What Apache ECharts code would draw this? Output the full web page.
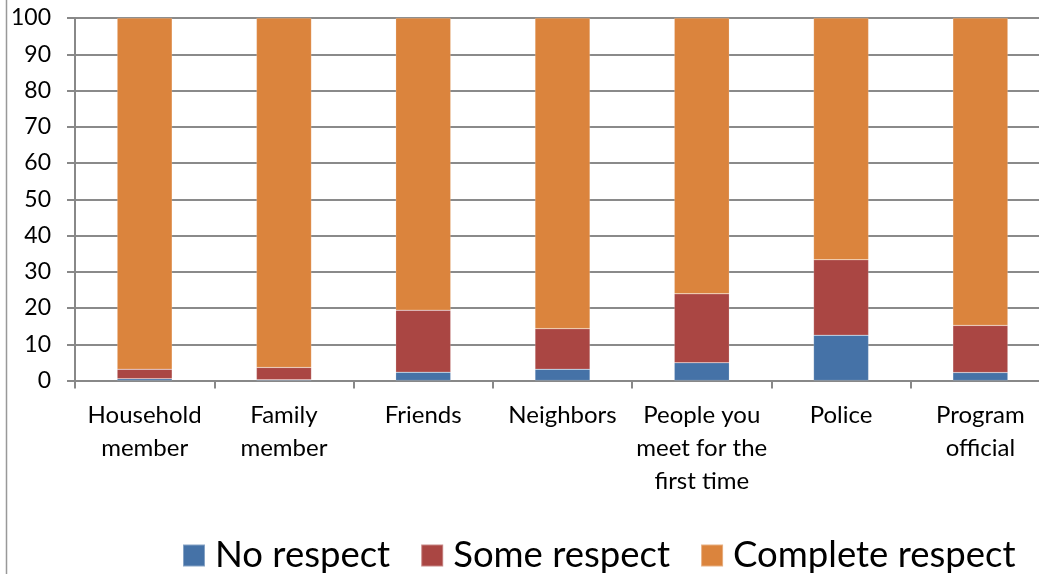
<!DOCTYPE html>
<html>
<head>
<meta charset="utf-8">
<style>
  html, body { margin: 0; padding: 0; background: #fff; overflow: hidden; width: 1039px; height: 574px; }
  /* the plot runs slightly past the right edge of the page, so the canvas is a bit wider */
  #chart { width: 1050px; height: 574px; }
</style>
<script src="https://cdn.jsdelivr.net/npm/echarts@6/dist/echarts.min.js"></script>
</head>
<body>
<div id="chart"></div>
<script>
// Level of respect felt from different groups (%)
const categories = [
  'Household\nmember',
  'Family\nmember',
  'Friends',
  'Neighbors',
  'People you\nmeet for the\nfirst time',
  'Police',
  'Program\nofficial'
];
const noRespect       = [0.5, 0.2, 2.3, 3.1, 4.9, 12.5, 2.2];
const someRespect     = [2.6, 3.4, 17.1, 11.2, 19.0, 20.8, 13.0];
const completeRespect = [96.9, 96.4, 80.6, 85.7, 76.1, 66.7, 84.8];
const yTicks = [0, 10, 20, 30, 40, 50, 60, 70, 80, 90, 100];

const seriesNames = ['No respect', 'Some respect', 'Complete respect'];
const colors = ['#4572A7', '#AA4643', '#DB843D'];
const FONT = 'Lato, "Open Sans", sans-serif';

const chart = echarts.init(document.getElementById('chart'), null, { renderer: 'canvas' });

function barSeries(name, data, color) {
  return {
    name: name,
    type: 'bar',
    stack: 'respect',
    data: data,
    barWidth: 55,
    itemStyle: { color: color, borderColor: 'rgba(255,255,255,0.35)', borderWidth: 0.5 },
    emphasis: { disabled: true }
  };
}

chart.setOption({
  animation: false,
  backgroundColor: '#fff',
  textStyle: { fontFamily: FONT },
  grid: { left: 75, right: 0, top: 18, bottom: 193.5, containLabel: false },
  legend: {
    data: seriesNames,
    left: 177,
    top: 532,
    itemWidth: 22,
    itemHeight: 22,
    itemGap: 30,
    icon: 'rect',
    textStyle: { fontSize: 36.5, color: '#000', fontFamily: FONT, padding: [0, 0, 0, 5] }
  },
  xAxis: {
    type: 'category',
    data: categories,
    axisLine: { lineStyle: { color: '#888', width: 2 } },
    axisTick: { show: true, length: 8, lineStyle: { color: '#888', width: 2 } },
    axisLabel: {
      interval: 0,
      margin: 18,
      fontSize: 24,
      lineHeight: 33,
      color: '#000',
      fontFamily: FONT
    }
  },
  yAxis: {
    type: 'value',
    min: yTicks[0],
    max: yTicks[yTicks.length - 1],
    interval: 10,
    axisLine: { show: true, lineStyle: { color: '#888', width: 2 } },
    axisTick: { show: true, length: 8, lineStyle: { color: '#888', width: 2 } },
    splitLine: { lineStyle: { color: '#8a8a8a', width: 2 } },
    axisLabel: { margin: 24, fontSize: 23, color: '#000', fontFamily: FONT }
  },
  graphic: [
    {
      type: 'line',
      shape: { x1: 6.5, y1: 0, x2: 6.5, y2: 574 },
      style: { stroke: '#999', lineWidth: 1.5 },
      silent: true
    }
  ],
  series: [
    barSeries(seriesNames[0], noRespect, colors[0]),
    barSeries(seriesNames[1], someRespect, colors[1]),
    barSeries(seriesNames[2], completeRespect, colors[2])
  ]
});
</script>
</body>
</html>
